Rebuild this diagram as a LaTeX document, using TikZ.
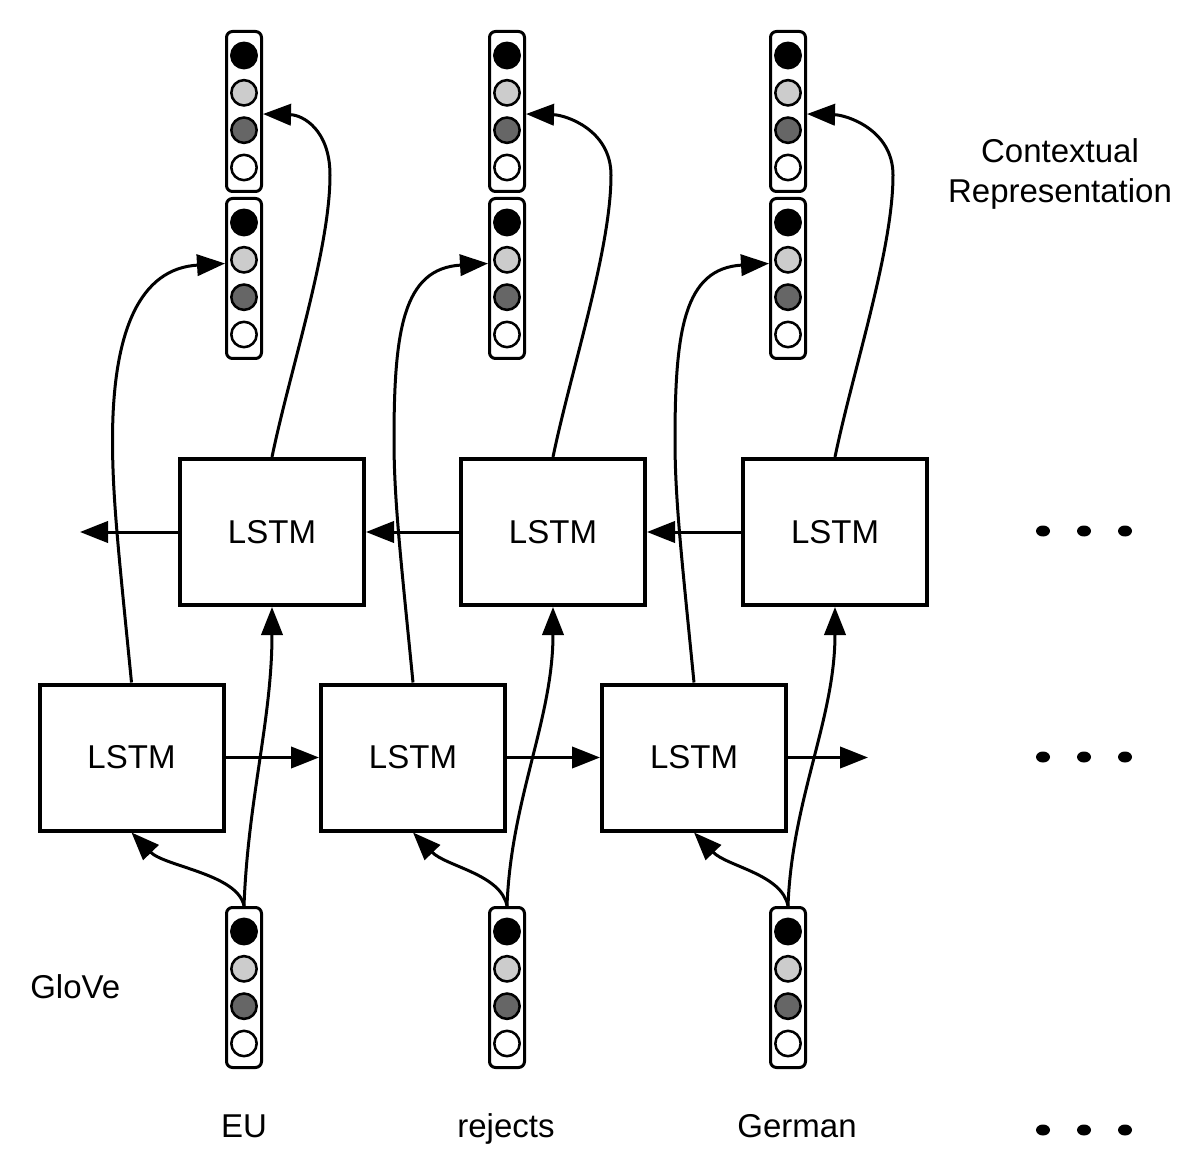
\documentclass[tikz,border=0pt]{standalone}
\usepackage{fontspec}
\setmainfont{Liberation Sans}
\usetikzlibrary{arrows.meta,shapes.geometric}
\newcommand\wvec[3]{%
  \node[vecbox] (#1) at (#2,#3) {};
  \node[cell, fill=black]        (#1-1) at (#2,#3-56) {};
  \node[cell, fill=black!20]     (#1-2) at (#2,#3-18.7) {};
  \node[cell, fill=black!60]     (#1-3) at (#2,#3+18.7) {};
  \node[cell, fill=white]        (#1-4) at (#2,#3+56) {};
}
\begin{document}
\begin{tikzpicture}[x=0.75pt,y=-0.75pt,
  lstm/.style={draw, line width=3pt, minimum width=138pt, minimum height=109.5pt, inner sep=0pt, font=\fontsize{24.75}{30}\selectfont},
  vecbox/.style={draw, fill=white, line width=2.25pt, rounded corners=4.5pt, minimum width=26.25pt, minimum height=120pt, inner sep=0pt},
  cell/.style={circle, draw, line width=1.9pt, minimum size=19pt, inner sep=0pt},
  arr/.style={line width=2.25pt, -{Triangle[length=21pt,width=16pt]}},
  lbl/.style={font=\fontsize{24.75}{30}\selectfont, inner sep=0pt},
  dotn/.style={ellipse, fill=black, minimum width=10.5pt, minimum height=8.25pt, inner sep=0pt}]
\useasboundingbox (0,0) rectangle (1204,1166);

% LSTM boxes
\node[lstm] (l1) at (131.5,757.5) {LSTM};
\node[lstm] (l2) at (413,757.5) {LSTM};
\node[lstm] (l3) at (694,757.5) {LSTM};
\node[lstm] (u1) at (272,532) {LSTM};
\node[lstm] (u2) at (553,532) {LSTM};
\node[lstm] (u3) at (835,532) {LSTM};

% vectors
\wvec{g1}{244}{987.5}
\wvec{g2}{507}{987.5}
\wvec{g3}{788}{987.5}
\wvec{m1}{244}{278.5}
\wvec{m2}{507}{278.5}
\wvec{m3}{788}{278.5}
\wvec{t1}{244}{111.5}
\wvec{t2}{507}{111.5}
\wvec{t3}{788}{111.5}

% labels
\node[lbl, anchor=base] (w1) at (244,1137) {EU};
\node[lbl, anchor=base] (w2) at (506,1137) {rejects};
\node[lbl, anchor=base] (w3) at (797,1137) {German};
\node[lbl, anchor=base west] (glove) at (30,998) {GloVe};
\node[lbl, align=center] (ctx) at (1060,174) {Contextual\\Representation};

% dots
\foreach \r/\yy in {a/531,b/757,c/1130}{
  \node[dotn] (d\r1) at (1043,\yy) {};
  \node[dotn] (d\r2) at (1084,\yy) {};
  \node[dotn] (d\r3) at (1125,\yy) {};
}

% horizontal connectors
\coordinate (lend) at (868,757.5);
\coordinate (uend) at (80,532);
\draw[arr] (l1.east) -- (l2.west);
\draw[arr] (l2.east) -- (l3.west);
\draw[arr] (l3.east) -- (lend);
\draw[arr] (u1.west) -- (uend);
\draw[arr] (u2.west) -- (u1.east);
\draw[arr] (u3.west) -- (u2.east);

% curved connectors per column
\foreach \i in {1,2,3}{
  \draw[arr] (g\i.north) .. controls +(-6,-32) and +(33,34) .. (l\i.south);
  \draw[arr] (g\i.north) .. controls +(4,-107) and +(0,112) .. (u\i.south);
  \draw[arr] (l\i.north) .. controls +(-12,-122) and +(0,60) .. ([shift={(-19,-242)}]l\i.north)
     .. controls +(0,-110) and +(-85,5) .. ([shift={(0,-15)}]m\i.west);
  \draw[arr] (u\i.north) .. controls +(18,-87) and +(0,75) .. ([shift={(58,-282)}]u\i.north)
     .. controls +(0,-45) and +(40,1) .. ([shift={(0,2.5)}]t\i.east);
}
\end{tikzpicture}
\end{document}
